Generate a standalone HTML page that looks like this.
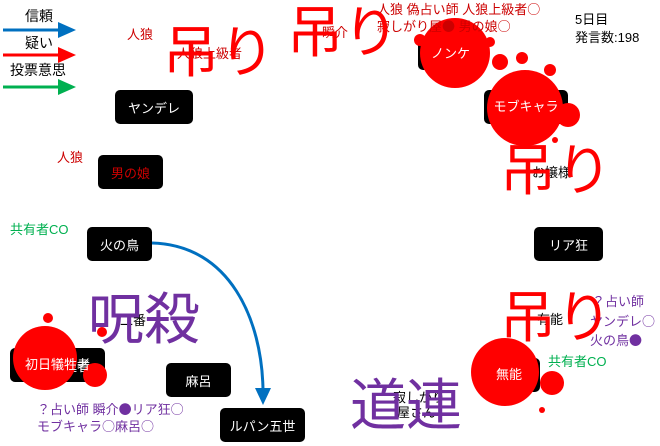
<!DOCTYPE html><html><head><meta charset="utf-8"><style>
body{margin:0;width:660px;height:446px;background:#fff;position:relative;overflow:hidden;font-family:"Liberation Sans","Noto Sans CJK JP",sans-serif}
.t{position:absolute;white-space:nowrap;line-height:1.2}
.n{position:absolute;background:#000;color:#fff;border-radius:5px;font-size:13px;display:flex;align-items:center;justify-content:center}
.big{position:absolute;white-space:nowrap;font-size:56px;line-height:1}
.c{font-family:"Noto Sans CJK JP",sans-serif}
</style></head><body>
<svg width="660" height="446" style="position:absolute;left:0;top:0">
<line x1="3" y1="30" x2="60" y2="30" stroke="#0070c0" stroke-width="3"/><polygon points="58,22 76,30 58,38" fill="#0070c0"/>
<line x1="3" y1="55" x2="60" y2="55" stroke="#f00" stroke-width="3"/><polygon points="58,47 76,55 58,63" fill="#f00"/>
<line x1="3" y1="87" x2="60" y2="87" stroke="#00b050" stroke-width="3"/><polygon points="58,79 76,87 58,95" fill="#00b050"/>
<path d="M152,243 C230,245 262,320 263,390" fill="none" stroke="#0070c0" stroke-width="3"/>
<polygon points="255,388 271,388 263,405" fill="#0070c0"/>
</svg>
<div class="t" style="left:25px;top:8px;font-size:14px">信頼</div>
<div class="t" style="left:25px;top:35px;font-size:14px">疑い</div>
<div class="t" style="left:10px;top:62px;font-size:14px">投票意思</div>
<div class="t" style="left:575px;top:12px;font-size:13px">5日目</div>
<div class="t" style="left:575px;top:30px;font-size:13px">発言数:198</div>

<div class="n" style="left:115px;top:90px;width:78px;height:34px">ヤンデレ</div>
<div class="n" style="left:98px;top:155px;width:65px;height:34px;color:#c00">男の娘</div>
<div class="n" style="left:418px;top:38px;width:65px;height:32px">ノンケ</div>
<div class="n" style="left:484px;top:90px;width:84px;height:34px">モブキャラ</div>
<div class="n" style="left:87px;top:227px;width:65px;height:34px">火の鳥</div>
<div class="n" style="left:534px;top:227px;width:69px;height:34px">リア狂</div>
<div class="n" style="left:10px;top:348px;width:95px;height:34px">初日犠牲者</div>
<div class="n" style="left:166px;top:363px;width:65px;height:34px">麻呂</div>
<div class="n" style="left:220px;top:408px;width:85px;height:34px">ルパン五世</div>
<div class="n" style="left:478px;top:358px;width:62px;height:34px">無能</div>

<svg width="660" height="446" style="position:absolute;left:0;top:0">
<g fill="#f00">
<circle cx="455" cy="53" r="35"/><circle cx="420" cy="40" r="6"/><circle cx="490" cy="42" r="5"/><circle cx="500" cy="62" r="8"/><circle cx="522" cy="58" r="6"/><circle cx="550" cy="70" r="6"/>
<circle cx="525" cy="108" r="38"/><circle cx="568" cy="115" r="12"/><circle cx="555" cy="140" r="3"/>
<circle cx="45" cy="358" r="32"/><circle cx="95" cy="375" r="12"/><circle cx="48" cy="318" r="5"/><circle cx="102" cy="332" r="5"/>
<circle cx="505" cy="372" r="34"/><circle cx="552" cy="383" r="12"/><circle cx="542" cy="410" r="3"/>
</g></svg>
<div class="t" style="left:418px;top:38px;width:65px;line-height:32px;text-align:center;color:#fff;font-size:13px">ノンケ</div>
<div class="t" style="left:484px;top:90px;width:84px;line-height:34px;text-align:center;color:#fff;font-size:13px">モブキャラ</div>
<div class="t" style="left:10px;top:348px;width:95px;line-height:34px;text-align:center;color:#fff;font-size:13px">初日犠牲者</div>
<div class="t" style="left:478px;top:358px;width:62px;line-height:34px;text-align:center;color:#fff;font-size:13px">無能</div>

<div class="t" style="left:377px;top:1px;font-size:13px;color:#c00">人狼 偽占い師 人狼上級者<span class="c">○</span></div>
<div class="t" style="left:377px;top:18px;font-size:13px;color:#c00">寂しがり屋<span class="c">●</span> 男の娘<span class="c">○</span></div>
<div class="t" style="left:127px;top:27px;font-size:13px;color:#c00">人狼</div>
<div class="t" style="left:177px;top:46px;font-size:13px;color:#c00">人狼上級者</div>
<div class="t" style="left:322px;top:25px;font-size:13px;color:#c00">瞬介</div>
<div class="t" style="left:57px;top:150px;font-size:13px;color:#c00">人狼</div>
<div class="t" style="left:532px;top:165px;font-size:13px">お嬢様</div>
<div class="t" style="left:10px;top:222px;font-size:13px;color:#00b050">共有者CO</div>
<div class="t" style="left:120px;top:313px;font-size:13px">二番</div>
<div class="t" style="left:537px;top:312px;font-size:13px">有能</div>
<div class="t" style="left:393px;top:390px;font-size:13px">寂しがり</div>
<div class="t" style="left:397px;top:405px;font-size:13px">屋さん</div>
<div class="t" style="left:37px;top:401px;font-size:13px;color:#7030a0">？占い師 瞬介<span class="c">●</span>リア狂<span class="c">○</span></div>
<div class="t" style="left:37px;top:418px;font-size:13px;color:#7030a0">モブキャラ<span class="c">○</span>麻呂<span class="c">○</span></div>
<div class="t" style="left:592px;top:294px;font-size:13px;color:#7030a0">？占い師</div>
<div class="t" style="left:590px;top:313px;font-size:13px;color:#7030a0">ヤンデレ<span class="c">○</span></div>
<div class="t" style="left:590px;top:332px;font-size:13px;color:#7030a0">火の鳥<span class="c">●</span></div>
<div class="t" style="left:548px;top:354px;font-size:13px;color:#00b050">共有者CO</div>

<div class="big" style="left:163px;top:25px;color:#f00">吊り</div>
<div class="big" style="left:287px;top:5px;color:#f00">吊り</div>
<div class="big" style="left:500px;top:143px;color:#f00">吊り</div>
<div class="big" style="left:500px;top:290px;color:#f00">吊り</div>
<div class="big" style="left:88px;top:292px;color:#7030a0">呪殺</div>
<div class="big" style="left:350px;top:378px;color:#7030a0">道連</div>
</body></html>
